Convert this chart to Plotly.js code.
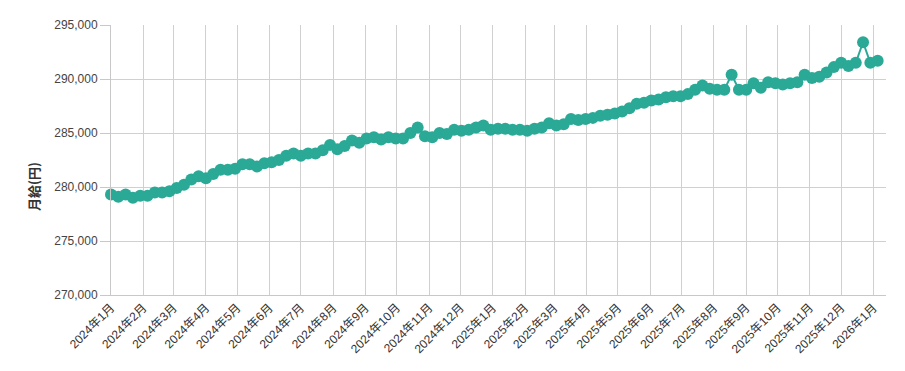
<!DOCTYPE html>
<html>
<head>
<meta charset="utf-8">
<script src="https://cdn.plot.ly/plotly-3.0.1.min.js"></script>
<style>html,body{margin:0;padding:0;background:#fff;}#chart{width:905px;height:371px;}</style>
</head>
<body>
<div id="chart"></div>
<script>
// Weekly observations starting 2024-01-01
const startDate = "2024-01-01";
const salary = [
  279300, 279100, 279300, 279000, 279200, 279200, 279500, 279500, 279600, 279900,
  280200, 280700, 281000, 280800, 281200, 281600, 281600, 281700, 282100, 282100,
  281900, 282200, 282300, 282500, 282900, 283100, 282900, 283100, 283100, 283400,
  283900, 283500, 283800, 284300, 284100, 284500, 284600, 284400, 284600, 284500,
  284500, 285000, 285500, 284700, 284600, 285000, 284900, 285300, 285200, 285300,
  285500, 285700, 285300, 285400, 285400, 285300, 285300, 285200, 285400, 285500,
  285900, 285700, 285800, 286300, 286200, 286300, 286400, 286600, 286700, 286800,
  287000, 287300, 287700, 287800, 288000, 288100, 288300, 288400, 288400, 288600,
  289000, 289400, 289100, 289000, 289000, 290400, 289000, 289000, 289600, 289200,
  289700, 289600, 289500, 289600, 289700, 290400, 290100, 290200, 290600, 291100,
  291500, 291200, 291500, 293400, 291500, 291700
];
const yTitle = "月給(円)";

const dates = [];
{
  const d0 = new Date(startDate + "T00:00:00Z");
  for (let i = 0; i < salary.length; i++) {
    const d = new Date(d0.getTime() + i * 7 * 86400000);
    dates.push(d.toISOString().slice(0, 10));
  }
}

const teal = "#2aa996";
const font = "Liberation Sans, Arial, 'Noto Sans CJK JP', sans-serif";

Plotly.newPlot("chart", [{
  x: dates,
  y: salary,
  type: "scatter",
  mode: "lines+markers",
  line: {color: teal, width: 2},
  marker: {color: teal, size: 12},
  cliponaxis: false,
  hoverinfo: "x+y"
}], {
  width: 905,
  height: 371,
  margin: {l: 111, r: 19, t: 25, b: 76},
  paper_bgcolor: "#fff",
  plot_bgcolor: "#fff",
  showlegend: false,
  font: {family: font, size: 12, color: "#444"},
  xaxis: {
    type: "date",
    range: ["2024-01-01", "2026-01-13"],
    tick0: "2024-01-01",
    dtick: "M1",
    tickformat: "%Y年%-m月",
    tickangle: -45,
    showgrid: true,
    gridcolor: "#d0d0d0",
    gridwidth: 1,
    showline: true,
    linecolor: "#c8c8c8",
    ticks: "",
    zeroline: false,
    tickfont: {family: font, size: 12, color: "#333"}
  },
  yaxis: {
    range: [270000, 295000],
    dtick: 5000,
    tickformat: ",d",
    showgrid: true,
    gridcolor: "#d0d0d0",
    gridwidth: 1,
    showline: true,
    linecolor: "#c8c8c8",
    ticks: "outside",
    ticklen: 10,
    tickcolor: "#c8c8c8",
    zeroline: false,
    tickfont: {family: font, size: 12, color: "#444"}
  },
  annotations: [{
    text: yTitle,
    xref: "paper", yref: "paper",
    x: -0.1006, y: 0.40,
    xanchor: "center", yanchor: "middle",
    textangle: -90,
    showarrow: false,
    font: {family: "'Noto Sans CJK JP', sans-serif", size: 13, color: "#333", weight: "bold"}
  }]
}, {displayModeBar: false, staticPlot: true});
</script>
</body>
</html>
